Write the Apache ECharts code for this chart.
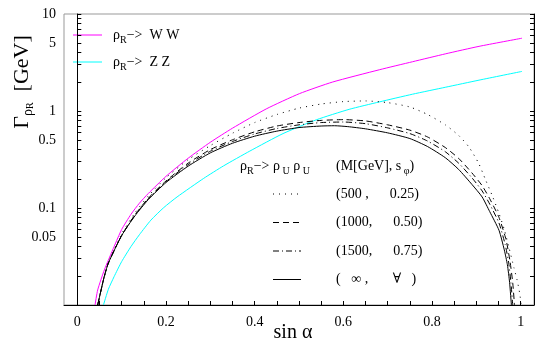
<!DOCTYPE html>
<html>
<head>
<meta charset="utf-8">
<script src="https://cdn.jsdelivr.net/npm/echarts@6/dist/echarts.min.js"></script>
<style>
  html, body { margin: 0; padding: 0; background: #fff; }
  #main { width: 545px; height: 346px; }
</style>
</head>
<body>
<div id="main"></div>
<script>
// widths Gamma(rho_R) [GeV] against sin(alpha)
var wwX = [0.040, 0.046, 0.061, 0.083, 0.10, 0.121, 0.14, 0.16, 0.20, 0.25, 0.30, 0.35, 0.426, 0.501, 0.576, 0.681, 0.756, 0.831, 0.906, 1.003];
var wwY = [0.010, 0.0143, 0.023, 0.040, 0.060, 0.086, 0.112, 0.141, 0.212, 0.326, 0.476, 0.665, 1.05, 1.51, 1.99, 2.66, 3.22, 3.89, 4.64, 5.63];

var zzX = [0.059, 0.07, 0.083, 0.10, 0.121, 0.14, 0.166, 0.195, 0.225, 0.285, 0.330, 0.389, 0.464, 0.539, 0.613, 0.681, 0.756, 0.831, 0.906, 1.003];
var zzY = [0.010, 0.0145, 0.0196, 0.028, 0.040, 0.053, 0.075, 0.101, 0.130, 0.202, 0.272, 0.386, 0.585, 0.811, 1.04, 1.24, 1.49, 1.76, 2.08, 2.56];

// rho_R -> rho_U rho_U
var uuX = [0.046, 0.06, 0.07, 0.10, 0.13, 0.16, 0.20, 0.25, 0.30, 0.35, 0.40, 0.45, 0.50, 0.55, 0.58, 0.61, 0.65, 0.70, 0.75, 0.79, 0.83, 0.86, 0.89, 0.913, 0.93, 0.951, 0.963, 0.97, 0.975, 0.979];
var uuInfY = [0.010, 0.019, 0.027, 0.052, 0.083, 0.122, 0.183, 0.27, 0.37, 0.465, 0.55, 0.62, 0.675, 0.70, 0.705, 0.69, 0.655, 0.595, 0.52, 0.43, 0.33, 0.25, 0.175, 0.13, 0.092, 0.059, 0.037, 0.026, 0.017, 0.010];

var uu1500X = [0.046, 0.06, 0.07, 0.10, 0.13, 0.16, 0.20, 0.25, 0.30, 0.35, 0.40, 0.45, 0.50, 0.55, 0.60, 0.65, 0.70, 0.75, 0.79, 0.83, 0.86, 0.89, 0.913, 0.93, 0.951, 0.965, 0.973, 0.978, 0.982];
var uu1500Y = [0.010, 0.019, 0.027, 0.052, 0.084, 0.124, 0.187, 0.28, 0.385, 0.485, 0.58, 0.66, 0.72, 0.76, 0.77, 0.74, 0.67, 0.585, 0.49, 0.38, 0.29, 0.205, 0.15, 0.11, 0.07, 0.042, 0.027, 0.017, 0.010];

var uu1000X = [0.046, 0.06, 0.07, 0.10, 0.13, 0.16, 0.20, 0.25, 0.30, 0.35, 0.40, 0.45, 0.50, 0.55, 0.60, 0.65, 0.70, 0.75, 0.79, 0.83, 0.86, 0.89, 0.913, 0.93, 0.951, 0.967, 0.976, 0.982, 0.986];
var uu1000Y = [0.010, 0.019, 0.027, 0.052, 0.085, 0.126, 0.19, 0.29, 0.40, 0.505, 0.61, 0.70, 0.76, 0.80, 0.815, 0.79, 0.72, 0.635, 0.54, 0.42, 0.325, 0.23, 0.17, 0.125, 0.08, 0.047, 0.028, 0.017, 0.010];

var uu500X = [0.046, 0.06, 0.07, 0.10, 0.13, 0.16, 0.20, 0.25, 0.30, 0.35, 0.40, 0.45, 0.50, 0.55, 0.60, 0.65, 0.70, 0.75, 0.79, 0.83, 0.86, 0.883, 0.905, 0.921, 0.937, 0.951, 0.963, 0.973, 0.985, 0.992, 0.998, 1.001];
var uu500Y = [0.010, 0.019, 0.027, 0.054, 0.089, 0.133, 0.205, 0.315, 0.44, 0.59, 0.76, 0.92, 1.07, 1.18, 1.25, 1.27, 1.22, 1.10, 0.92, 0.72, 0.56, 0.427, 0.29, 0.194, 0.13, 0.088, 0.06, 0.040, 0.024, 0.018, 0.013, 0.010];

// axis ticks and labels
var xLabelValues = [0, 0.2, 0.4, 0.6, 0.8, 1];
var xTickValues = [0, 0.05, 0.1, 0.15, 0.2, 0.25, 0.3, 0.35, 0.4, 0.45, 0.5, 0.55, 0.6, 0.65, 0.7, 0.75, 0.8, 0.85, 0.9, 0.95, 1];
var yLabelValues = [0.05, 0.1, 0.5, 1, 5, 10];
var yTickValues = [0.01, 0.02, 0.03, 0.04, 0.05, 0.06, 0.07, 0.08, 0.09, 0.1, 0.2, 0.3, 0.4, 0.5, 0.6, 0.7, 0.8, 0.9, 1, 2, 3, 4, 5, 6, 7, 8, 9, 10];

var legendRows = ['(500 ,      0.25)', '(1000,      0.50)', '(1500,      0.75)', '(   \u221e ,       \u2200   )'];

function pairs(xs, ys) {
  return xs.map(function (x, i) { return [x, ys[i]]; });
}

var serif = '"Liberation Serif", "DejaVu Serif", serif';
var chart = echarts.init(document.getElementById('main'));

function curve(name, xs, ys, color, type) {
  return {
    name: name,
    type: 'line',
    data: pairs(xs, ys),
    showSymbol: false,
    smooth: 0.2,
    lineStyle: { color: color, width: 1, type: type },
    silent: true
  };
}

var richBase = {
  a: { fontFamily: serif, fontSize: 14, color: '#000', lineHeight: 20 },
  s: { fontFamily: serif, fontSize: 10, color: '#000', lineHeight: 8, verticalAlign: 'bottom' }
};

function label(x, y, text, size) {
  return {
    type: 'text', x: x, y: y,
    style: { text: text, fill: '#000', font: (size || 14) + 'px ' + serif, rich: richBase, verticalAlign: 'middle' }
  };
}
function sample(x1, x2, y, color, dash) {
  return {
    type: 'line', shape: { x1: x1, y1: y, x2: x2, y2: y },
    style: { stroke: color, lineWidth: 1, lineDash: dash || null }
  };
}

var rowY = [194, 222.5, 251, 279.5];
var rowDash = [[1, 5], [6, 4], [6, 3, 1, 3], null];
var graphics = [
  sample(73, 102, 35, '#ff00ff'),
  label(113, 35, '{a|\u03c1}{s|R}{a|\u2212>  W W}'),
  sample(73, 102, 62, '#00ffff'),
  label(113, 62, '{a|\u03c1}{s|R}{a|\u2212>  Z Z}'),
  label(240, 166, '{a|\u03c1}{s|R}{a|\u2212> \u03c1}{s| U}{a| \u03c1}{s| U}'),
  label(336, 166, '{a|(M[GeV], s}{s| \u03c6}{a|)}'),
  {
    type: 'text', x: 293, y: 333,
    style: { text: 'sin \u03b1', fill: '#000', font: '20px ' + serif, align: 'center', verticalAlign: 'middle' }
  },
  {
    type: 'text', x: 22, y: 82, rotation: Math.PI / 2,
    style: {
      text: '{g|\u0393}{p|\u03c1}{r|R}{g|  [GeV]}',
      align: 'center', verticalAlign: 'middle',
      rich: {
        g: { fontFamily: serif, fontSize: 22, color: '#000', lineHeight: 26 },
        p: { fontFamily: serif, fontSize: 14, color: '#000', lineHeight: 12, verticalAlign: 'bottom' },
        r: { fontFamily: serif, fontSize: 10, color: '#000', lineHeight: 4, verticalAlign: 'bottom' }
      }
    }
  }
];
legendRows.forEach(function (t, i) {
  graphics.push(sample(273, 301, rowY[i], '#000', rowDash[i]));
  graphics.push(label(336, rowY[i], t));
});

var option = {
  animation: false,
  backgroundColor: '#fff',
  grid: { left: 64, right: 11, top: 14, bottom: 41, show: true, borderColor: '#999', borderWidth: 1 },
  xAxis: {
    type: 'value', min: -0.03, max: 1.03,
    axisLine: { lineStyle: { color: '#000', width: 1 } },
    axisTick: { inside: true, length: 4, customValues: xTickValues, lineStyle: { color: '#000' } },
    axisLabel: { customValues: xLabelValues, margin: 10, fontFamily: serif, fontSize: 14, color: '#000' },
    splitLine: { show: false }
  },
  yAxis: [{
    type: 'log', logBase: 10, min: 0.01, max: 10,
    axisLine: { show: true, lineStyle: { color: '#000', width: 1 } },
    axisTick: { show: true, inside: true, length: 4, customValues: yTickValues, lineStyle: { color: '#000' } },
    axisLabel: { customValues: yLabelValues, margin: 8, fontFamily: serif, fontSize: 14, color: '#000' },
    splitLine: { show: false }
  }, {
    type: 'log', logBase: 10, min: 0.01, max: 10, position: 'right',
    axisLine: { show: true, lineStyle: { color: '#000', width: 1 } },
    axisTick: { show: true, inside: true, length: 4, customValues: yTickValues, lineStyle: { color: '#000' } },
    axisLabel: { show: false },
    splitLine: { show: false }
  }],
  series: [
    curve('WW', wwX, wwY, '#ff00ff', 'solid'),
    curve('ZZ', zzX, zzY, '#00ffff', 'solid'),
    curve('500', uu500X, uu500Y, '#000', [1, 5]),
    curve('1000', uu1000X, uu1000Y, '#000', [6, 4]),
    curve('1500', uu1500X, uu1500Y, '#000', [6, 3, 1, 3]),
    curve('inf', uuX, uuInfY, '#000', 'solid')
  ],
  graphic: graphics
};
chart.setOption(option);
</script>
</body>
</html>
